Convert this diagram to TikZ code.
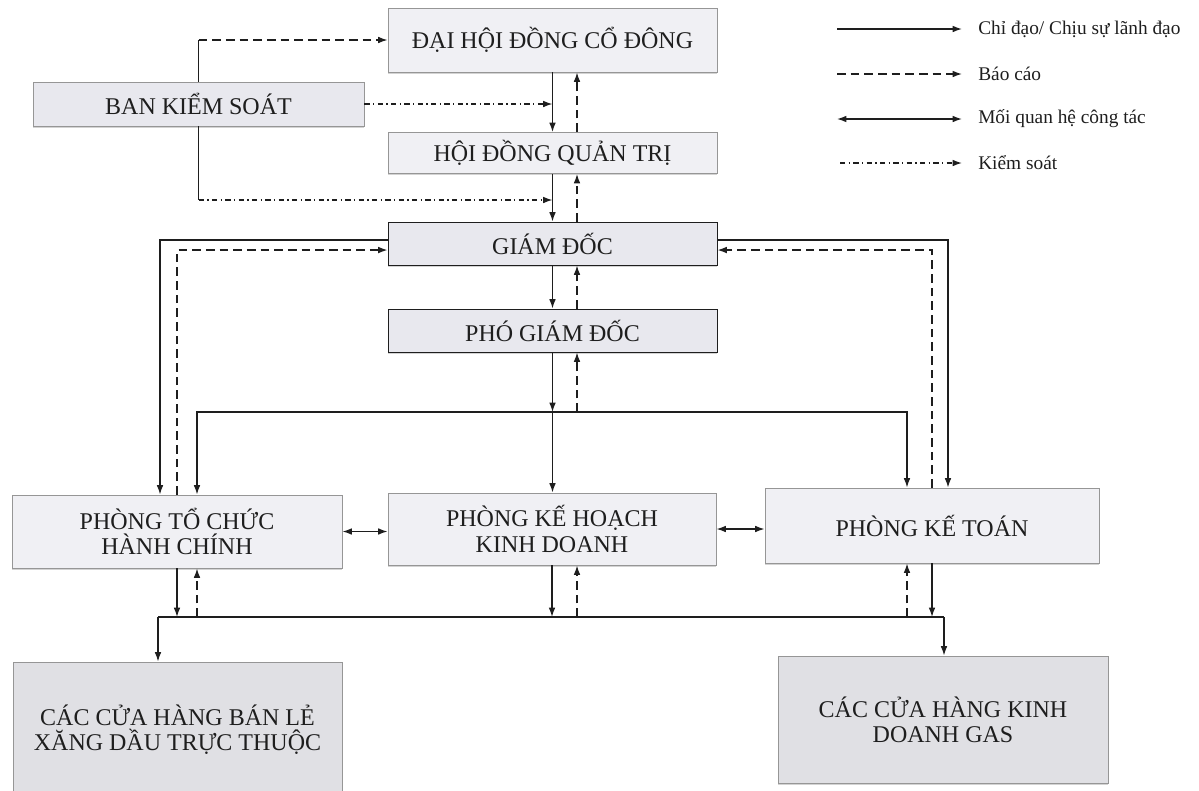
\documentclass[tikz,border=0pt]{standalone}
\usepackage{fontspec}
\setmainfont{Liberation Serif}
\usetikzlibrary{arrows.meta, calc, shadows}
\definecolor{boxfill}{RGB}{240,240,244}
\definecolor{chieffill}{RGB}{232,232,238}
\definecolor{shopfill}{RGB}{224,224,228}
\definecolor{boxedge}{RGB}{150,150,150}
\definecolor{inkline}{RGB}{30,30,30}

\begin{document}
\begin{tikzpicture}[x=0.75pt, y=-0.75pt,
    >={Latex[length=7pt,width=5pt]},
    orgbox/.style={draw=boxedge, fill=boxfill, line width=0.7pt, align=center,
      text=inkline, inner sep=2pt, font=\fontsize{18}{19}\selectfont,
      drop shadow={shadow xshift=0pt, shadow yshift=-1.2pt, opacity=0.35}},
    chiefbox/.style={orgbox, draw=inkline, fill=chieffill},
    shopbox/.style={orgbox, fill=shopfill},
    plainline/.style={draw=inkline, line width=1pt},
    leadline/.style={plainline, ->},
    reportline/.style={plainline, ->, dash pattern=on 6.5pt off 3.75pt},
    ctrlline/.style={plainline, ->, dash pattern=on 4pt off 2.5pt on 1pt off 2.5pt},
    linkline/.style={plainline, <->},
    legendtext/.style={anchor=west, inner sep=0pt, text=inkline,
      font=\fontsize{14.5}{17}\selectfont}]
  \useasboundingbox (0,0) rectangle (1199,790);
  \clip (0,0) rectangle (1199,790);

  % boxes
  \node[orgbox, minimum width=246.75pt, minimum height=48pt] (dhcd) at (552.5,40) {ĐẠI HỘI ĐỒNG CỔ ĐÔNG};
  \node[orgbox, fill=chieffill, minimum width=248.25pt, minimum height=33pt] (bks) at (198.5,104) {BAN KIỂM SOÁT};
  \node[orgbox, minimum width=246.75pt, minimum height=30.75pt] (hdqt) at (552.5,153) {HỘI ĐỒNG QUẢN TRỊ};
  \node[chiefbox, minimum width=246.75pt, minimum height=32.25pt] (gd) at (552.5,243.5) {GIÁM ĐỐC};
  \node[chiefbox, minimum width=246.75pt, minimum height=32.25pt] (pgd) at (552.5,330.5) {PHÓ GIÁM ĐỐC};
  \node[orgbox, minimum width=247.5pt, minimum height=54.75pt] (tchc) at (177,531.5) {PHÒNG TỔ CHỨC\\HÀNH CHÍNH};
  \node[orgbox, minimum width=246pt, minimum height=54pt] (khkd) at (552,529) {PHÒNG KẾ HOẠCH\\KINH DOANH};
  \node[orgbox, minimum width=250.5pt, minimum height=56.25pt] (ketoan) at (932,525.5) {PHÒNG KẾ TOÁN};
  \node[shopbox, minimum width=246.75pt, minimum height=102pt] (chbl) at (177.5,730) {CÁC CỬA HÀNG BÁN LẺ\\XĂNG DẦU TRỰC THUỘC};
  \node[shopbox, minimum width=247.5pt, minimum height=95.25pt] (gas) at (943,719.5) {CÁC CỬA HÀNG KINH\\DOANH GAS};

  % ban kiem soat
  \draw[plainline] (bks.north) -- (bks.north |- dhcd.west);
  \draw[reportline] (bks.north |- dhcd.west) -- (dhcd.west);
  \draw[ctrlline] (bks.east) -- (bks.east -| dhcd.south);
  \coordinate (ksbot) at (198.5,200);
  \draw[plainline] (bks.south) -- (ksbot);
  \draw[ctrlline] (ksbot) -- (ksbot -| hdqt.south);

  % main chain
  \draw[leadline] (dhcd.south) -- (hdqt.north);
  \draw[reportline] (hdqt.north -| 577,0) -- (dhcd.south -| 577,0);
  \draw[leadline] (hdqt.south) -- (gd.north);
  \draw[reportline] (gd.north -| 577,0) -- (hdqt.south -| 577,0);
  \draw[leadline] (gd.south) -- (pgd.north);
  \draw[reportline] (pgd.north -| 577,0) -- (gd.south -| 577,0);

  \coordinate (midjn) at (552.5,412);
  \draw[leadline] (pgd.south) -- (midjn);
  \draw[leadline] (midjn) -- (midjn |- khkd.north);
  \draw[reportline] (midjn -| 577,0) -- (pgd.south -| 577,0);
  \draw[leadline] (midjn) -| (tchc.north -| 197,0);
  \draw[leadline] (midjn) -| (ketoan.north -| 907,0);

  % giam doc to the side rooms
  \draw[leadline] ([yshift=2.6pt]gd.west) -| (tchc.north -| 160,0);
  \draw[reportline] (tchc.north) |- ([yshift=-4.9pt]gd.west);
  \draw[leadline] ([yshift=2.6pt]gd.east) -| (ketoan.north -| 948,0);
  \draw[reportline] (ketoan.north) |- ([yshift=-4.9pt]gd.east);

  \draw[linkline] (tchc.east) -- (tchc.east -| khkd.west);
  \draw[linkline] (khkd.east) -- (khkd.east -| ketoan.west);

  % lower bus
  \coordinate (lowl) at (158,617);
  \coordinate (lowr) at (944,617);
  \draw[plainline] (lowl) -- (lowr);
  \draw[leadline] (lowl) -- (lowl |- chbl.north);
  \draw[leadline] (lowr) -- (lowr |- gas.north);
  \draw[leadline] (tchc.south) -- (tchc.south |- lowl);
  \draw[reportline] (lowl -| 197,0) -- (tchc.south -| 197,0);
  \draw[leadline] (khkd.south) -- (khkd.south |- lowl);
  \draw[reportline] (lowl -| 577,0) -- (khkd.south -| 577,0);
  \draw[reportline] (lowl -| 907,0) -- (ketoan.south -| 907,0);
  \draw[leadline] (ketoan.south) -- (ketoan.south |- lowl);

  % legend
  \node[legendtext] (lgLead) at (978,29) {Chỉ đạo/ Chịu sự lãnh đạo};
  \node[legendtext] (lgReport) at (978,74) {Báo cáo};
  \node[legendtext] (lgLink) at (978,119) {Mối quan hệ công tác};
  \node[legendtext] (lgCtrl) at (978,163) {Kiểm soát};
  \coordinate (lgA) at (837,29);
  \coordinate (lgB) at (837,74);
  \coordinate (lgC) at (837,119);
  \coordinate (lgD) at (840,163);
  \draw[leadline] (lgA) -- ([xshift=-12pt]lgLead.west);
  \draw[reportline] (lgB) -- ([xshift=-12pt]lgReport.west);
  \draw[linkline] (lgC) -- ([xshift=-12pt]lgLink.west);
  \draw[ctrlline] (lgD) -- ([xshift=-12pt]lgCtrl.west);
\end{tikzpicture}
\end{document}
